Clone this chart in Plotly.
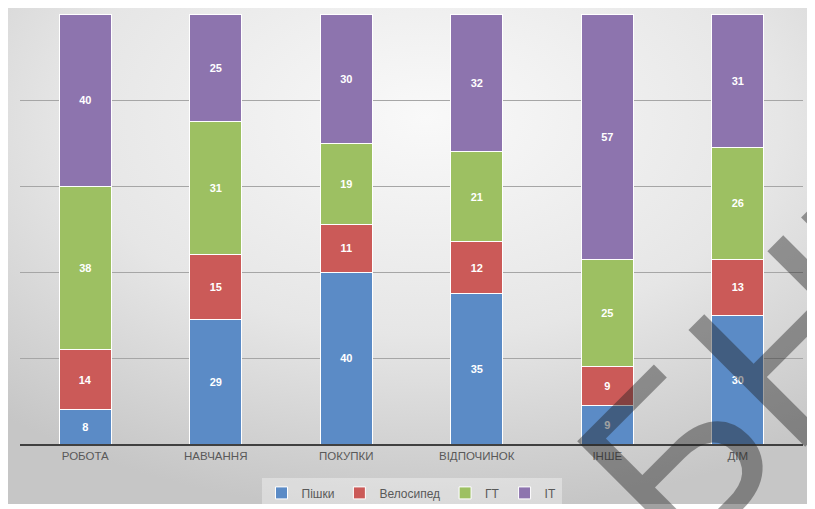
import base64
import plotly.graph_objects as go

categories = ["РОБОТА", "НАВЧАННЯ", "ПОКУПКИ", "ВІДПОЧИНОК", "ІНШЕ", "ДІМ"]
series_names = ["Пішки", "Велосипед", "ГТ", "ІТ"]
pishky = [8, 29, 40, 35, 9, 30]
velosyped = [14, 15, 11, 12, 9, 13]
gt = [38, 31, 19, 21, 25, 26]
it = [40, 25, 30, 32, 57, 31]
watermark = "БНТУ"
colors = ["#5B8BC6", "#CB5A58", "#9DC062", "#8D74AE"]

fig = go.Figure()
for name, vals, col in zip(series_names, [pishky, velosyped, gt, it], colors):
    fig.add_trace(go.Bar(
        name=name, x=categories, y=vals,
        marker=dict(color=col, line=dict(color="white", width=1)),
        text=[str(v) for v in vals], textposition="inside",
        insidetextanchor="middle", constraintext="none",
        textfont=dict(color="white", size=11, family="Liberation Sans Narrow, Liberation Sans, Arial"),
        texttemplate="<b>%{text}</b>",
    ))

# page body has an 8px offset; figure is sized to fill the rest of the window
W, H = 807, 501
L, R, T, B = 12, 12, 6, 65
pw, ph = W - L - R, H - T - B

bg_svg = ("<svg xmlns='http://www.w3.org/2000/svg' width='804' height='496' viewBox='0 0 804 496' preserveAspectRatio='none'>"
          "<defs><radialGradient id='g' cx='0.52' cy='0.22' r='0.8'>"
          "<stop offset='0' stop-color='#f9f9f9'/><stop offset='0.55' stop-color='#e6e6e6'/>"
          "<stop offset='1' stop-color='#c6c6c6'/></radialGradient></defs>"
          "<rect x='0' y='0' width='804' height='496' fill='url(#g)'/></svg>")
fig.add_layout_image(dict(
    source="data:image/svg+xml;base64," + base64.b64encode(bg_svg.encode()).decode(),
    xref="paper", yref="paper",
    x=-L / pw, y=(H - B) / ph, sizex=804 / pw, sizey=496 / ph,
    xanchor="left", yanchor="top", sizing="stretch", layer="below",
))

fs = 240
wm_svg = (f"<svg xmlns='http://www.w3.org/2000/svg' width='{W}' height='{H}' viewBox='0 0 {W} {H}' preserveAspectRatio='none'>"
          "<g transform='translate(672 564) rotate(-45)' "
          f"font-family='Liberation Sans, Arial, sans-serif' font-size='{fs}' "
          "fill='rgba(30,30,30,0.42)'>"
          f"<text x='0' y='0'>{watermark}</text></g></svg>")
fig.add_layout_image(dict(
    source="data:image/svg+xml;base64," + base64.b64encode(wm_svg.encode("utf-8")).decode(),
    xref="paper", yref="paper",
    x=-L / pw, y=(H - B) / ph, sizex=W / pw, sizey=H / ph,
    xanchor="left", yanchor="top", sizing="stretch", layer="above",
))

fig.update_layout(
    width=W, height=H,
    margin=dict(l=L, r=R, t=T, b=B, autoexpand=False),
    barmode="stack", bargap=0.6,
    paper_bgcolor="white", plot_bgcolor="rgba(0,0,0,0)",
    showlegend=True,
    legend=dict(orientation="h", x=0.5, xanchor="center", y=-0.08, yanchor="top",
                bgcolor="rgba(255,255,255,0.35)",
                font=dict(size=12, color="#595959", family="Liberation Sans, Arial"),
                itemwidth=30, traceorder="normal"),
    xaxis=dict(showgrid=False, showline=True, linecolor="#404040", linewidth=2,
               ticks="", automargin=False,
               tickfont=dict(size=11.5, color="#595959", family="Liberation Sans, Arial")),
    yaxis=dict(range=[0, 100], dtick=20, showgrid=True, gridcolor="#a6a6a6", gridwidth=1,
               showticklabels=False, zeroline=False, showline=False, automargin=False),
)

fig.write_html("out.html")
